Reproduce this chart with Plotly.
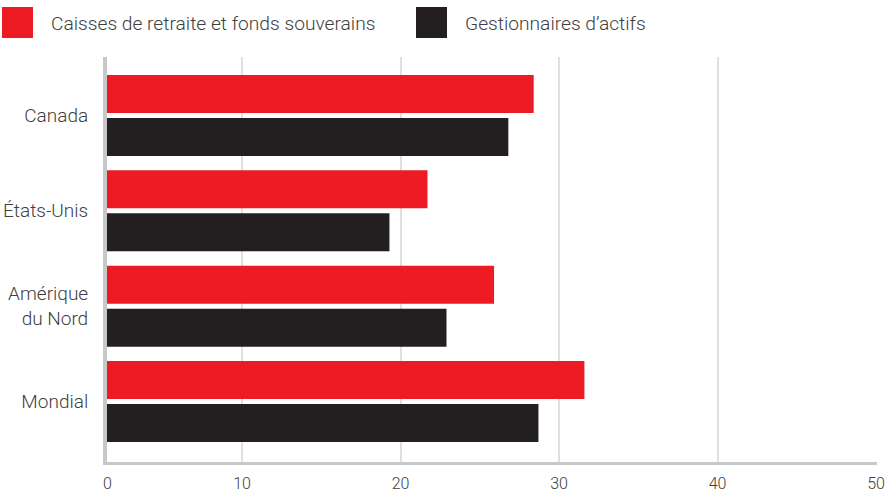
import plotly.graph_objects as go

categories = ["Canada", "États-Unis", "Amérique<br>du Nord", "Mondial"]
series_names = ["Caisses de retraite et fonds souverains", "Gestionnaires d’actifs"]
pension_values = [28.4, 21.7, 25.9, 31.6]
manager_values = [26.8, 19.3, 22.9, 28.7]
tick_values = [10, 20, 30, 40, 50]
tick_labels = ["10", "20", "30", "40", "50"]
colors = ["#ED1C24", "#231F20"]

W, H = 894, 492
L, R, T, B = 107, 17, 57, 30
pw, ph = W - L - R, H - T - B

x_min, x_max = 1.48, 50.06

fig = go.Figure()
for name, vals, col in zip(series_names, [pension_values, manager_values], colors):
    fig.add_trace(go.Bar(
        y=categories, x=vals, name=name, orientation="h",
        marker=dict(color=col, line=dict(width=0)),
        showlegend=False, hoverinfo="x+y",
    ))

font_family = "Roboto"
text_color = "#404040"

def px_x(px):
    return (px - L) / pw

def px_y(py):
    return (H - B - py) / ph

shapes = []
annotations = []
legend_items = [(2, 49), (416, 463)]
for (sq_x, tx), name, col in zip(legend_items, series_names, colors):
    shapes.append(dict(type="rect", xref="paper", yref="paper",
                       x0=px_x(sq_x), x1=px_x(sq_x + 31), y0=px_y(38), y1=px_y(7),
                       fillcolor=col, line=dict(width=0), layer="above"))
    annotations.append(dict(text=name, xref="paper", yref="paper",
                            x=px_x(tx), y=px_y(23), xanchor="left", yanchor="middle",
                            showarrow=False,
                            font=dict(family=font_family, size=19.2, color=text_color, weight=300)))

# "0" label at the left edge of the value axis
annotations.append(dict(text="0", xref="paper", yref="paper", x=0, y=px_y(483),
                        xanchor="center", yanchor="middle", showarrow=False,
                        font=dict(family=font_family, size=16, color=text_color, weight=300)))

fig.update_layout(
    width=W, height=H,
    margin=dict(l=L, r=R, t=T, b=B, pad=0, autoexpand=False),
    paper_bgcolor="white", plot_bgcolor="white",
    barmode="group", bargap=0.0976, bargroupgap=0.116,
    font=dict(family=font_family, size=18, color=text_color),
    shapes=shapes, annotations=annotations,
    xaxis=dict(
        range=[x_min, x_max], tickvals=tick_values, ticktext=tick_labels,
        showgrid=True, gridcolor="#e0e0e0", gridwidth=2,
        zeroline=False, showline=True, linecolor="#c7c8ca", linewidth=3,
        ticks="outside", ticklen=5, tickcolor="rgba(0,0,0,0)",
        tickfont=dict(family=font_family, size=16, color=text_color, weight=300),
        fixedrange=True, automargin=False,
    ),
    yaxis=dict(
        autorange=False, range=[3.635, -0.614],
        showgrid=False, zeroline=False, showline=True, linecolor="#c7c8ca", linewidth=4,
        ticks="outside", ticklen=11, tickcolor="rgba(0,0,0,0)",
        tickfont=dict(family=font_family, size=19, color=text_color, weight=300),
        fixedrange=True, automargin=False,
    ),
)

fig.write_html("out.html", config={"displayModeBar": False})
